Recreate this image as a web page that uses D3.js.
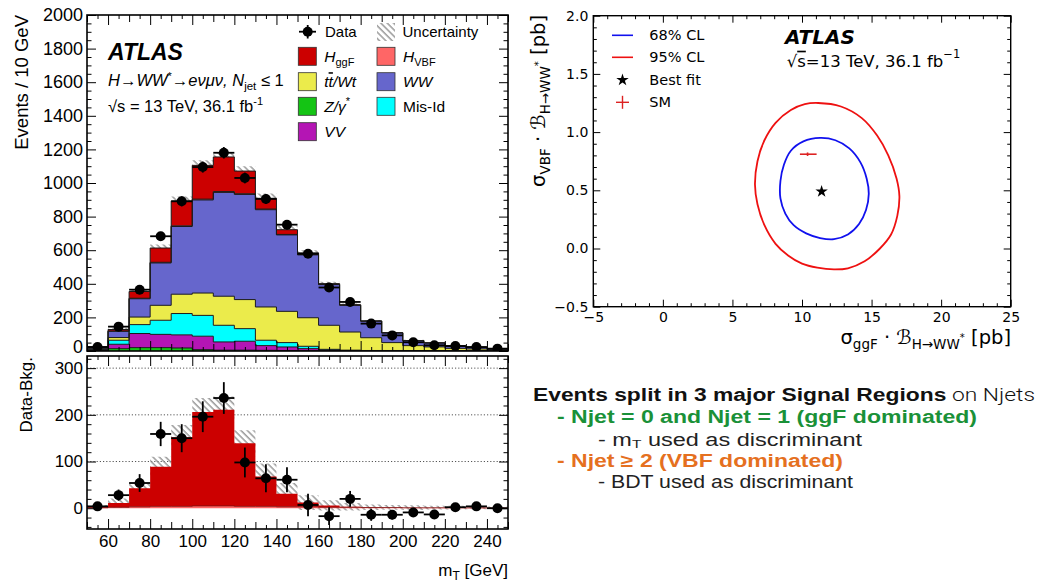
<!DOCTYPE html>
<html>
<head>
<meta charset="utf-8">
<script src="https://d3js.org/d3.v7.min.js"></script>
<style>
  html,body{margin:0;padding:0;background:#fff;}
  svg{display:block;}
  .root text{font-family:"Liberation Sans",Arial,Helvetica,sans-serif;fill:#000;}
  .mpl text{font-family:"DejaVu Sans",sans-serif;fill:#000;}
  .slide text{font-family:"Liberation Sans",Arial,Helvetica,sans-serif;}
</style>
</head>
<body>
<svg id="chart" width="1041" height="582"></svg>
<script>
// ---------- m_T distribution, Njet <= 1, e-mu channel ----------
const binLow   = [50,60,70,80,90,100,110,120,130,140,150,160,170,180,190,200,210,220,230,240];
const binWidth = 10;
const dataCounts = [24,145,365,683,891,1095,1180,1030,905,752,579,378,292,163,93,52,34,30,24,14];
const dataErr    = [5,12,19,26,30,33,34,32,30,27,24,19,17,13,10,7,6,5.5,5,4];
const bkgZgamma  = [3,14,20,20,18,8,5,5,4,3,2,2,1,1,1,0.5,0.3,0.2,0.1,0.1];
const bkgVV      = [4,26,84,79,78,80,49,53,28,21,12,4,2,1,1,0.5,0.5,0.3,0.2,0.2];
const bkgMisId   = [3,24,53,84,127,124,99,75,32,26,14,4,2,1,1,1,0.5,0.3,0.2,0.1];
const bkgTop     = [4,16,45,89,115,133,173,173,198,186,170,143,108,76,47,30,23,15,11.5,7.6];
const bkgWW      = [6,37,109,252,403,554,618,626,579,455,374,242,159,98,57,29,23,12,8,6];
const sigVBF     = [1,2,3,4,4,5,5,4,4,3,3,2,2,1.5,1.5,1,1,1,0.8,0.6];
const sigGgF     = [3,9,40,85,148,201,206,135,64,28,9,4,1,0.5,0.3,0.2,0.1,0.1,0.1,0.1];
const bkgUnc     = [3,10,10,21,26,30,28,28,28,23,16,11,8,6,5,5,4,4,3,3];

const topYTicks   = [0,200,400,600,800,1000,1200,1400,1600,1800,2000];
const ratioYTicks = [0,100,200,300];
const mtTicks     = [60,80,100,120,140,160,180,200,220,240];

// ---------- ggF vs VBF cross-section likelihood contours ----------
const contour68 = [[11.3,0.95],[12.4,0.93],[13.4,0.86],[14.2,0.74],[14.65,0.6],[14.8,0.47],[14.6,0.33],[14.1,0.21],
                   [13.3,0.12],[12.3,0.08],[11.3,0.09],[10.3,0.13],[9.4,0.2],[8.8,0.3],[8.45,0.43],[8.45,0.58],
                   [8.7,0.72],[9.2,0.84],[10.1,0.92]];
const contour95 = [[11.16,1.25],[12.8,1.22],[14.3,1.12],[15.4,0.97],[16.2,0.8],[16.8,0.6],[17.0,0.45],[16.85,0.28],
                   [16.4,0.12],[15.6,0.0],[14.5,-0.11],[13.3,-0.17],[12.3,-0.18],[11.1,-0.165],[10.0,-0.13],[9.0,-0.06],
                   [8.1,0.04],[7.3,0.2],[6.8,0.38],[6.62,0.55],[6.8,0.75],[7.3,0.93],[8.1,1.08],[9.2,1.19],[10.2,1.24]];
const bestFit = [11.41, 0.49];
const smPoint = [10.4, 0.81];
const smErrX  = [9.85, 11.05];
const smErrY  = [0.795, 0.825];
const sigXTicks = [-5,0,5,10,15,20,25];
const sigYTicks = [-0.5,0.0,0.5,1.0,1.5,2.0];

const n = binLow.length;
const svg = d3.select("#chart");
const defs = svg.append("defs");

// diagonal hatching for the systematic band
const pat = defs.append("pattern").attr("id","hatch").attr("patternUnits","userSpaceOnUse")
  .attr("width",4.5).attr("height",4.5).attr("patternTransform","rotate(-45)");
pat.append("line").attr("x1",1).attr("y1",0).attr("x2",1).attr("y2",4.5)
  .attr("stroke","#8a8a8a").attr("stroke-width",1.3);

const xM   = d3.scaleLinear().domain([50,250]).range([87,508]);
const yTop = d3.scaleLinear().domain([0,2000]).range([351,15]);
const yRat = d3.scaleLinear().domain([-44.5,326]).range([529,356]);

defs.append("clipPath").attr("id","clipTop").append("rect")
  .attr("x",87).attr("y",15).attr("width",421).attr("height",336);
defs.append("clipPath").attr("id","clipRat").append("rect")
  .attr("x",87).attr("y",356).attr("width",421).attr("height",173);

const stepPts = (lo, hi) => {
  const p = binLow.map((b,i)=>({x:b, y0:lo[i], y1:hi[i]}));
  p.push({x:binLow[n-1]+binWidth, y0:lo[n-1], y1:hi[n-1]});
  return p;
};
const stepArea = y => d3.area().x(d=>xM(d.x)).y0(d=>y(d.y0)).y1(d=>y(d.y1)).curve(d3.curveStepAfter);
const stepLine = y => d3.line().x(d=>xM(d.x)).y(d=>y(d.y1)).curve(d3.curveStepAfter);

const root = svg.append("g").attr("class","root");

// ================= upper panel: stacked m_T =================
const layers = [
  {key:"Z",    vals:bkgZgamma, color:"#14c414"},
  {key:"VV",   vals:bkgVV,     color:"#b415b4"},
  {key:"Mis",  vals:bkgMisId,  color:"#00ffff"},
  {key:"Top",  vals:bkgTop,    color:"#ebeb4b"},
  {key:"WW",   vals:bkgWW,     color:"#6666cc"},
  {key:"VBF",  vals:sigVBF,    color:"#ff6666"},
  {key:"ggF",  vals:sigGgF,    color:"#cc0000"}
];
const rows = binLow.map((b,i)=>{ const r={}; layers.forEach(l=>r[l.key]=l.vals[i]); return r; });
const stacked = d3.stack().keys(layers.map(l=>l.key))(rows);
const totals = rows.map(r=>layers.reduce((s,l)=>s+r[l.key],0));
const bkgSum = binLow.map((b,i)=>bkgZgamma[i]+bkgVV[i]+bkgMisId[i]+bkgTop[i]+bkgWW[i]);

const up = root.append("g").attr("clip-path","url(#clipTop)");
up.append("path")
  .attr("d", stepArea(yTop)(stepPts(totals.map((t,i)=>t-bkgUnc[i]), totals.map((t,i)=>t+bkgUnc[i]))))
  .attr("fill","url(#hatch)");
stacked.forEach((s,k)=>{
  up.append("path").attr("d", stepArea(yTop)(stepPts(s.map(d=>d[0]), s.map(d=>d[1]))))
    .attr("fill", layers[k].color);
});
stacked.forEach(s=>{
  up.append("path").attr("d", stepLine(yTop)(stepPts(s.map(d=>d[0]), s.map(d=>d[1]))))
    .attr("fill","none").attr("stroke","#1a1a1a").attr("stroke-width",1);
});
// data points
const dataG = up.append("g");
binLow.forEach((b,i)=>{
  const cx = xM(b+binWidth/2), cy = yTop(dataCounts[i]);
  dataG.append("line").attr("x1",xM(b)).attr("x2",xM(b+binWidth)).attr("y1",cy).attr("y2",cy)
    .attr("stroke","#000").attr("stroke-width",1.8);
  dataG.append("line").attr("x1",cx).attr("x2",cx)
    .attr("y1",yTop(dataCounts[i]-dataErr[i])).attr("y2",yTop(dataCounts[i]+dataErr[i]))
    .attr("stroke","#000").attr("stroke-width",1.8);
  dataG.append("circle").attr("cx",cx).attr("cy",cy).attr("r",5).attr("fill","#000");
});

// ================= lower panel: data - background =================
const low = root.append("g");
ratioYTicks.filter(v=>v>0).forEach(v=>{
  low.append("line").attr("x1",87).attr("x2",508).attr("y1",yRat(v)).attr("y2",yRat(v))
    .attr("stroke","#555").attr("stroke-width",1).attr("stroke-dasharray","1.2,2");
});
const lowC = low.append("g").attr("clip-path","url(#clipRat)");
const sigTot = binLow.map((b,i)=>sigVBF[i]+sigGgF[i]);
lowC.append("path")
  .attr("d", stepArea(yRat)(stepPts(sigTot.map((s,i)=>s-bkgUnc[i]), sigTot.map((s,i)=>s+bkgUnc[i]))))
  .attr("fill","url(#hatch)");
const sigStack = d3.stack().keys(["VBF","ggF"])(binLow.map((b,i)=>({VBF:sigVBF[i], ggF:sigGgF[i]})));
const sigColors = ["#ff6666","#cc0000"];
sigStack.forEach((s,k)=>{
  lowC.append("path").attr("d", stepArea(yRat)(stepPts(s.map(d=>d[0]), s.map(d=>d[1]))))
    .attr("fill", sigColors[k]);
});
lowC.append("path").attr("d", stepLine(yRat)(stepPts(sigStack[0].map(d=>d[0]), sigStack[0].map(d=>d[1]))))
  .attr("fill","none").attr("stroke","#7a1010").attr("stroke-width",0.8);
binLow.forEach((b,i)=>{
  const v = dataCounts[i]-bkgSum[i];
  const cx = xM(b+binWidth/2), cy = yRat(v);
  lowC.append("line").attr("x1",xM(b)).attr("x2",xM(b+binWidth)).attr("y1",cy).attr("y2",cy)
    .attr("stroke","#000").attr("stroke-width",1.8);
  lowC.append("line").attr("x1",cx).attr("x2",cx)
    .attr("y1",yRat(v-dataErr[i])).attr("y2",yRat(v+dataErr[i]))
    .attr("stroke","#000").attr("stroke-width",1.8);
  lowC.append("circle").attr("cx",cx).attr("cy",cy).attr("r",5).attr("fill","#000");
});

// ---------- axes of the left figure (inward ticks on all sides) ----------
function tickSet(g, axisFn, scale, vals, size, fmt, pad, fontSize){
  const a = axisFn(scale).tickValues(vals).tickSize(size).tickPadding(pad||3);
  a.tickFormat(fmt ? fmt : ()=>"");
  g.call(a);
  g.select(".domain").remove();
  g.selectAll(".tick line").attr("stroke","#000").attr("stroke-width",1);
  if (fontSize) g.selectAll("text").attr("font-size",fontSize).attr("font-family","Liberation Sans, Arial, sans-serif").attr("fill","#000");
  return g;
}
const every = (a,b,s) => d3.range(a,b+1e-9,s);
const minus = (arr, ex) => arr.filter(v=>!ex.some(e=>Math.abs(e-v)<1e-9));

const xMaj = every(60,240,20), xMid = minus(every(50,250,10), xMaj), xMin = minus(every(50,250,5), every(50,250,10));
// upper edges of each panel: ticks point down; lower edges: ticks point up
[15,356].forEach(yy=>{
  [[xMaj,10],[xMid,7],[xMin,4]].forEach(([vals,len])=>
    tickSet(root.append("g").attr("transform",`translate(0,${yy})`), d3.axisBottom, xM, vals, len));
});
[351,529].forEach(yy=>{
  [[xMaj,10],[xMid,7],[xMin,4]].forEach(([vals,len])=>
    tickSet(root.append("g").attr("transform",`translate(0,${yy})`), d3.axisTop, xM, vals, len));
});
// y ticks upper panel
const yTopMin = minus(every(0,2000,50), topYTicks);
const yTopAx = tickSet(root.append("g").attr("transform","translate(87,0)"), d3.axisLeft, yTop, topYTicks, -9, d3.format("d"), 4, 18);
// the zero label sits right above the lower panel's top label: lift it slightly
yTopAx.selectAll(".tick").filter(d=>d===0).select("text").attr("dy","0.1em");
tickSet(root.append("g").attr("transform","translate(87,0)"), d3.axisLeft, yTop, yTopMin, -4.5);
tickSet(root.append("g").attr("transform","translate(508,0)"), d3.axisRight, yTop, topYTicks, -9);
tickSet(root.append("g").attr("transform","translate(508,0)"), d3.axisRight, yTop, yTopMin, -4.5);
// y ticks lower panel
const yRatMin = minus(every(-40,320,20), ratioYTicks);
tickSet(root.append("g").attr("transform","translate(87,0)"), d3.axisLeft, yRat, ratioYTicks, -9, d3.format("d"), 4, 17);
tickSet(root.append("g").attr("transform","translate(87,0)"), d3.axisLeft, yRat, yRatMin, -4.5);
tickSet(root.append("g").attr("transform","translate(508,0)"), d3.axisRight, yRat, ratioYTicks, -9);
tickSet(root.append("g").attr("transform","translate(508,0)"), d3.axisRight, yRat, yRatMin, -4.5);
// x labels
const xLab = root.append("g").attr("transform","translate(0,529)");
xLab.call(d3.axisBottom(xM).tickValues(mtTicks).tickSize(0).tickPadding(6).tickFormat(d3.format("d")));
xLab.select(".domain").remove();
xLab.selectAll("text").attr("font-size",17).attr("font-family","Liberation Sans, Arial, sans-serif");

// frames
root.append("rect").attr("x",87).attr("y",15).attr("width",421).attr("height",336)
  .attr("fill","none").attr("stroke","#000").attr("stroke-width",1.6);
root.append("rect").attr("x",87).attr("y",356).attr("width",421).attr("height",173)
  .attr("fill","none").attr("stroke","#000").attr("stroke-width",1.6);

// axis titles
root.append("text").attr("transform","translate(28,15) rotate(-90)").attr("text-anchor","end")
  .attr("font-size",18.5).text("Events / 10 GeV");
root.append("text").attr("transform","translate(32,357) rotate(-90)").attr("text-anchor","end")
  .attr("font-size",17).text("Data-Bkg.");
const mtT = root.append("text").attr("x",508).attr("y",576).attr("text-anchor","end").attr("font-size",17);
mtT.append("tspan").text("m");
mtT.append("tspan").attr("font-size",12).attr("dy",4).text("T");
mtT.append("tspan").attr("dy",-4).text(" [GeV]");

// labels inside upper panel
root.append("text").attr("x",108).attr("y",60).attr("font-size",23).attr("font-weight","bold")
  .attr("font-style","italic").text("ATLAS");
const proc = root.append("text").attr("x",108).attr("y",86).attr("font-size",16.5);
proc.append("tspan").attr("font-style","italic").text("H\u2192WW");
proc.append("tspan").attr("font-size",11).attr("dy",-6).text("*");
proc.append("tspan").attr("dy",6).attr("font-style","italic").text("\u2192e\u03bd\u03bc\u03bd, N");
proc.append("tspan").attr("font-size",11.5).attr("dy",4).text("jet");
proc.append("tspan").attr("dy",-4).text(" \u2264 1");
const en = root.append("text").attr("x",108).attr("y",112).attr("font-size",16.5);
en.append("tspan").text("\u221as = 13 TeV, 36.1 fb");
en.append("tspan").attr("font-size",11).attr("dy",-7).text("-1");

// legend
const leg = root.append("g");
leg.append("line").attr("x1",299).attr("x2",316).attr("y1",31.7).attr("y2",31.7).attr("stroke","#000").attr("stroke-width",1.8);
leg.append("line").attr("x1",307.7).attr("x2",307.7).attr("y1",25).attr("y2",38.5).attr("stroke","#000").attr("stroke-width",1.8);
leg.append("circle").attr("cx",307.7).attr("cy",31.7).attr("r",5).attr("fill","#000");
leg.append("text").attr("x",325).attr("y",37).attr("font-size",15).text("Data");
leg.append("rect").attr("x",377).attr("y",23).attr("width",18).attr("height",18).attr("fill","url(#hatch)");
leg.append("text").attr("x",402.5).attr("y",37).attr("font-size",15).text("Uncertainty");

const legItems = [
  {col:0,row:0,color:"#cc0000",parts:[["H","italic",0],["ggF","normal",1]]},
  {col:1,row:0,color:"#ff6666",parts:[["H","italic",0],["VBF","normal",1]]},
  {col:0,row:1,color:"#ebeb4b",parts:[["t","italic",0],["t","italic-bar",0],["/Wt","italic",0]]},
  {col:1,row:1,color:"#6666cc",parts:[["WW","italic",0]]},
  {col:0,row:2,color:"#14c414",parts:[["Z/\u03b3","italic",0],["*","normal",-1]]},
  {col:1,row:2,color:"#00ffff",parts:[["Mis-Id","normal",0]]},
  {col:0,row:3,color:"#b415b4",parts:[["VV","italic",0]]}
];
const legRowY = [47.3,72.7,97.3,122.7];
const legColX = [298.3,377];
legItems.forEach(it=>{
  const bx = legColX[it.col], by = legRowY[it.row];
  leg.append("rect").attr("x",bx).attr("y",by).attr("width",18).attr("height",18)
    .attr("fill",it.color).attr("stroke","#333").attr("stroke-width",0.8);
  const t = leg.append("text").attr("x",bx+26).attr("y",by+14.5).attr("font-size",15.5);
  let prev = 0;
  it.parts.forEach(([s,style,shift])=>{
    const sp = t.append("tspan").text(s);
    if (style.startsWith("italic")) sp.attr("font-style","italic");
    if (style==="italic-bar") sp.style("text-decoration","overline");
    const dy = shift===1 ? 4 : (shift===-1 ? -7 : 0);
    if (dy-prev!==0) sp.attr("dy",dy-prev);
    if (shift!==0) sp.attr("font-size",11);
    prev = dy;
  });
});

// ================= right figure: contours =================
const xR = d3.scaleLinear().domain([-5,25]).range([593.3,1010.7]);
const yR = d3.scaleLinear().domain([-0.5,2.0]).range([306.7,15.7]);
const mpl = svg.append("g").attr("class","mpl");

const cline = d3.line().x(d=>xR(d[0])).y(d=>yR(d[1])).curve(d3.curveCatmullRomClosed.alpha(0.5));
mpl.append("path").attr("d",cline(contour95)).attr("fill","none").attr("stroke","#ee1111").attr("stroke-width",1.8);
mpl.append("path").attr("d",cline(contour68)).attr("fill","none").attr("stroke","#1111ee").attr("stroke-width",1.8);
mpl.append("path").attr("d",d3.symbol(d3.symbolStar,48)()).attr("transform",`translate(${xR(bestFit[0])},${yR(bestFit[1])})`).attr("fill","#000");
mpl.append("line").attr("x1",xR(smErrX[0])).attr("x2",xR(smErrX[1])).attr("y1",yR(smPoint[1])).attr("y2",yR(smPoint[1]))
  .attr("stroke","#dd2222").attr("stroke-width",1.6);
mpl.append("line").attr("x1",xR(smPoint[0])).attr("x2",xR(smPoint[0])).attr("y1",yR(smErrY[0])).attr("y2",yR(smErrY[1]))
  .attr("stroke","#dd2222").attr("stroke-width",1.6);

function mplTicks(g, fn, scale, vals, size, fmt, pad){
  const a = fn(scale).tickValues(vals).tickSize(size).tickPadding(pad||4);
  a.tickFormat(fmt ? fmt : ()=>"");
  g.call(a);
  g.select(".domain").remove();
  g.selectAll(".tick line").attr("stroke","#000").attr("stroke-width",1);
  g.selectAll("text").attr("font-size",14).attr("font-family","DejaVu Sans, sans-serif").attr("fill","#000");
}
const sxMin = minus(every(-5,25,1), sigXTicks);
const syMin = minus(every(-0.5,2.0,0.1), sigYTicks);
mplTicks(mpl.append("g").attr("transform","translate(0,306.7)"), d3.axisBottom, xR, sigXTicks, -7, d3.format("d"), 5.5);
mplTicks(mpl.append("g").attr("transform","translate(0,306.7)"), d3.axisBottom, xR, sxMin, -3.5);
mplTicks(mpl.append("g").attr("transform","translate(0,15.7)"), d3.axisTop, xR, sigXTicks, -7);
mplTicks(mpl.append("g").attr("transform","translate(0,15.7)"), d3.axisTop, xR, sxMin, -3.5);
mplTicks(mpl.append("g").attr("transform","translate(593.3,0)"), d3.axisLeft, yR, sigYTicks, -7, d3.format(".1f"), 5);
mplTicks(mpl.append("g").attr("transform","translate(593.3,0)"), d3.axisLeft, yR, syMin, -3.5);
mplTicks(mpl.append("g").attr("transform","translate(1010.7,0)"), d3.axisRight, yR, sigYTicks, -7);
mplTicks(mpl.append("g").attr("transform","translate(1010.7,0)"), d3.axisRight, yR, syMin, -3.5);
mpl.append("rect").attr("x",593.3).attr("y",15.7).attr("width",417.4).attr("height",291)
  .attr("fill","none").attr("stroke","#000").attr("stroke-width",1.4);

// axis titles
const xt = mpl.append("text").attr("x",1011).attr("y",344).attr("text-anchor","end").attr("font-size",19.5);
xt.append("tspan").text("\u03c3");
xt.append("tspan").attr("font-size",13.5).attr("dy",5).text("ggF");
xt.append("tspan").attr("dy",-5).text(" \u00b7 \u212c");
xt.append("tspan").attr("font-size",13.5).attr("dy",5).text("H\u2192WW");
xt.append("tspan").attr("font-size",10).attr("dy",-8).text("*");
xt.append("tspan").attr("dy",3).text("  [pb]");
const yt = mpl.append("text").attr("transform","translate(545,15) rotate(-90)").attr("text-anchor","end").attr("font-size",19.5);
yt.append("tspan").text("\u03c3");
yt.append("tspan").attr("font-size",13.5).attr("dy",5).text("VBF");
yt.append("tspan").attr("dy",-5).text(" \u00b7 \u212c");
yt.append("tspan").attr("font-size",13.5).attr("dy",5).text("H\u2192WW");
yt.append("tspan").attr("font-size",10).attr("dy",-8).text("*");
yt.append("tspan").attr("dy",3).text("  [pb]");

// legend
const lg = mpl.append("g");
lg.append("line").attr("x1",612).attr("x2",633).attr("y1",35.3).attr("y2",35.3).attr("stroke","#1111ee").attr("stroke-width",1.6);
lg.append("text").attr("x",649.3).attr("y",40.3).attr("font-size",14.5).text("68% CL");
lg.append("line").attr("x1",612).attr("x2",633).attr("y1",57.3).attr("y2",57.3).attr("stroke","#ee1111").attr("stroke-width",1.6);
lg.append("text").attr("x",649.3).attr("y",62.3).attr("font-size",14.5).text("95% CL");
lg.append("path").attr("d",d3.symbol(d3.symbolStar,48)()).attr("transform","translate(622.5,80)").attr("fill","#000");
lg.append("text").attr("x",649.3).attr("y",85).attr("font-size",14.5).text("Best fit");
lg.append("line").attr("x1",616).attr("x2",629).attr("y1",102.3).attr("y2",102.3).attr("stroke","#dd2222").attr("stroke-width",1.4);
lg.append("line").attr("x1",622.5).attr("x2",622.5).attr("y1",95.8).attr("y2",108.8).attr("stroke","#dd2222").attr("stroke-width",1.4);
lg.append("text").attr("x",649.3).attr("y",107.3).attr("font-size",14.5).text("SM");

mpl.append("text").attr("x",785).attr("y",44.3).attr("font-size",20).attr("font-weight","bold")
  .attr("font-style","italic").attr("font-family","Liberation Sans, Arial, sans-serif").text("ATLAS");
const rs = mpl.append("text").attr("x",786.7).attr("y",66.7).attr("font-size",16.5);
rs.append("tspan").text("\u221a");
rs.append("tspan").style("text-decoration","overline").text("s");
rs.append("tspan").text("=13 TeV, 36.1 fb");
rs.append("tspan").attr("font-size",11.5).attr("dy",-9).text("\u22121");

// ================= summary text =================
const slide = svg.append("g").attr("class","slide");
const l1 = slide.append("text").attr("x",533).attr("y",401).attr("font-size",18)
  .attr("textLength",502).attr("lengthAdjust","spacingAndGlyphs").attr("fill","#111");
l1.append("tspan").attr("font-weight","bold").text("Events split in 3 major Signal Regions");
l1.append("tspan").attr("font-weight","300").attr("font-family","Roboto, Liberation Sans, sans-serif").text(" on Njets");
slide.append("text").attr("x",557).attr("y",423.3).attr("font-size",18).attr("font-weight","bold")
  .attr("fill","#1a9138").attr("textLength",420).attr("lengthAdjust","spacingAndGlyphs")
  .text("-  Njet = 0 and Njet = 1 (ggF dominated)");
const l3 = slide.append("text").attr("x",598).attr("y",446).attr("font-size",17.5).attr("fill","#222")
  .attr("font-family","Roboto, Liberation Sans, sans-serif").attr("font-weight","300")
  .attr("textLength",264).attr("lengthAdjust","spacingAndGlyphs");
l3.append("tspan").text("-  m");
l3.append("tspan").attr("font-size",11.5).attr("dy",2).text("T");
l3.append("tspan").attr("dy",-2).text(" used as discriminant");
slide.append("text").attr("x",557).attr("y",466.7).attr("font-size",18).attr("font-weight","bold")
  .attr("fill","#e5701f").attr("textLength",286).attr("lengthAdjust","spacingAndGlyphs")
  .text("-  Njet \u2265 2 (VBF dominated)");
slide.append("text").attr("x",598).attr("y",488).attr("font-size",17.5).attr("fill","#222")
  .attr("font-family","Roboto, Liberation Sans, sans-serif").attr("font-weight","300")
  .attr("textLength",255).attr("lengthAdjust","spacingAndGlyphs")
  .text("-  BDT used as discriminant");
</script>
</body>
</html>
